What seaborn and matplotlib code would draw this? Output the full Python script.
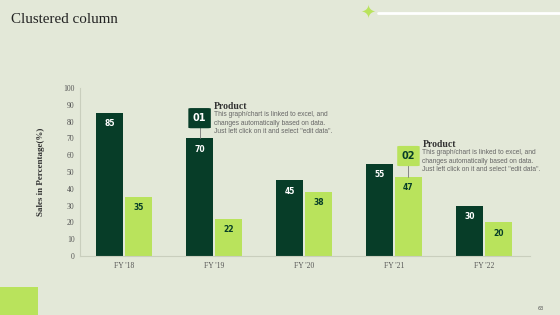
import numpy as np
import pandas as pd
import matplotlib.pyplot as plt
import seaborn as sns
from matplotlib.patches import FancyBboxPatch, Rectangle

# データ
years = ["FY '18", "FY '19", "FY '20", "FY '21", "FY '22"]
series_names = ["Product 01", "Product 02"]
product_01 = [85, 70, 45, 55, 30]
product_02 = [35, 22, 38, 47, 20]
y_ticks = list(range(0, 101, 10))

note_text = ("This graph/chart is linked to excel, and\n"
             "changes automatically based on data.\n"
             "Just left click on it and select \"edit data\".")

bg = "#e3e8d8"
dark = "#073d28"
light = "#b9e35c"

df = pd.DataFrame({
    "year": years * 2,
    "series": [series_names[0]] * 5 + [series_names[1]] * 5,
    "value": product_01 + product_02,
})

sns.set_style("white")
plt.rcParams["font.family"] = ["Liberation Serif", "DejaVu Serif"]

fig = plt.figure(figsize=(5.6, 3.15), dpi=100, facecolor=bg)
ax = fig.add_axes([0.143, 0.187, 0.803, 0.534])
ax.set_facecolor(bg)

sns.barplot(data=df, x="year", y="value", hue="series", order=years,
            hue_order=series_names, palette=[dark, light], width=0.645,
            gap=0.07, legend=False, ax=ax, saturation=1, linewidth=0)

ax.set_ylim(0, 100)
ax.set_xlim(-0.49, 4.51)
ax.set_yticks(y_ticks)
ax.tick_params(axis="both", length=0, labelsize=5.5, labelcolor="#555555", pad=4)
ax.set_xlabel("")
ax.set_ylabel("Sales in Percentage(%)", fontsize=6.5, fontweight="bold",
              color="#333333", labelpad=13)
for s in ["top", "right"]:
    ax.spines[s].set_visible(False)
for s in ["left", "bottom"]:
    ax.spines[s].set_color("#c9cebd")
    ax.spines[s].set_linewidth(0.8)

# バーのラベル
for cont, col in zip(ax.containers, ["white", dark]):
    ax.bar_label(cont, label_type="edge", padding=-11, color=col,
                 fontsize=5.5, fontweight="bold", family="DejaVu Sans")

# 注釈ボックス
bars1 = ax.containers[0]
bars2 = ax.containers[1]

def callout(bar, label, y_box, fc, tc):
    cx = bar.get_x() + bar.get_width() / 2
    top = bar.get_height()
    ax.plot([cx, cx], [top, y_box], color="#777777", lw=0.6, zorder=1)
    ax.add_patch(FancyBboxPatch((cx - 0.125, y_box - 6), 0.25, 12,
                                boxstyle="round,pad=0,rounding_size=0.035",
                                fc=fc, ec="none", zorder=3,
                                mutation_aspect=10))
    ax.text(cx, y_box, label, ha="center", va="center", color=tc,
            fontsize=7, fontweight="bold", family="DejaVu Sans", zorder=4)
    ax.text(cx + 0.155, y_box + 6.8, "Product", ha="left", va="center",
            fontsize=7, fontweight="bold", color="#333333")
    ax.text(cx + 0.155, y_box + 4.0, note_text, ha="left", va="top",
            fontsize=4.8, color="#666666", family="Liberation Sans",
            linespacing=1.25)

callout(bars1[1], "01", 82, dark, "white")
callout(bars2[3], "02", 59.5, light, dark)

# タイトル・装飾
fig.text(0.02, 0.937, "Clustered column", fontsize=10.8, color="#222222",
         ha="left", va="center")
fig.add_artist(plt.Line2D([0.675, 1.0], [0.958, 0.958], color="white", lw=2,
                          transform=fig.transFigure))
fig.text(0.657, 0.958, "\u2726", fontsize=13, color=light, ha="center",
         va="center", family="DejaVu Sans")
fig.add_artist(Rectangle((0, 0), 0.068, 0.09, transform=fig.transFigure,
                         fc=light, ec="none"))
fig.text(0.965, 0.022, "63", fontsize=3.5, color="#555555", ha="center",
         va="center", family="DejaVu Sans")

plt.savefig("out.png", dpi=100, facecolor=bg)
plt.close("all")
